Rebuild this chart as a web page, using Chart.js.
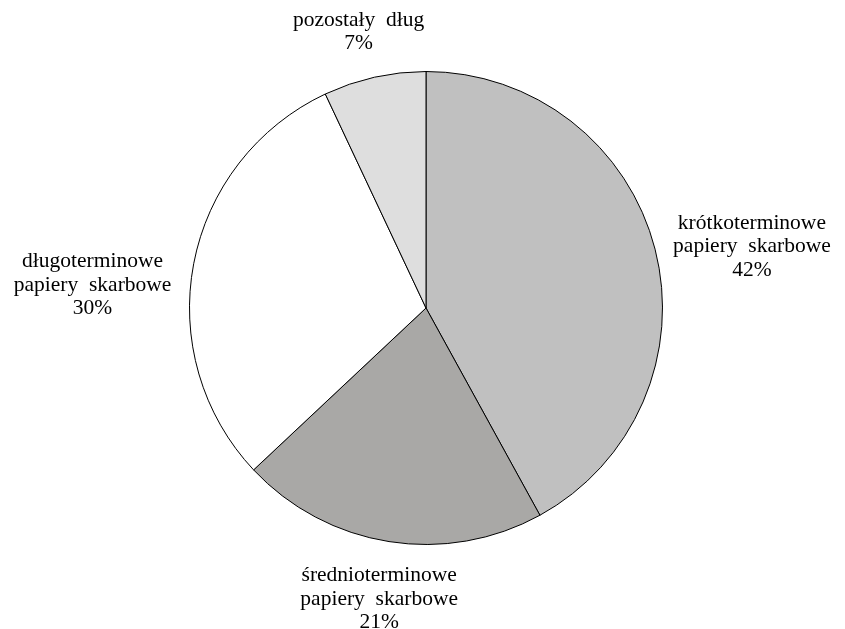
<!DOCTYPE html>
<html>
<head>
<meta charset="utf-8">
<script src="https://cdn.jsdelivr.net/npm/chart.js@4/dist/chart.umd.min.js"></script>
<style>
html,body{margin:0;padding:0;background:#fff;}
#wrap{width:845px;height:629px;}
</style>
</head>
<body>
<div id="wrap"><canvas id="pieChart"></canvas></div>
<script>
const labels = [
    ["krótkoterminowe", "papiery  skarbowe"],
    ["średnioterminowe", "papiery  skarbowe"],
    ["długoterminowe", "papiery  skarbowe"],
    ["pozostały  dług"]
];
const values = [42, 21, 30, 7];
const colors = ["#c0c0c0", "#a9a8a6", "#ffffff", "#dedede"];

// draws each label outside its slice, pushed out along the slice's middle angle
const outsideLabels = {
    id: "outsideLabels",
    afterDatasetsDraw(chart, args, opts){
        const ctx = chart.ctx;
        const meta = chart.getDatasetMeta(0);
        ctx.save();
        ctx.font = "21.5px 'Liberation Serif'";
        ctx.fillStyle = "#000";
        ctx.textAlign = "center";
        ctx.textBaseline = "middle";
        const lineH = 23.5;
        meta.data.forEach(function(arc, i){
            const lines = labels[i].concat([values[i] + "%"]);
            const mid = (arc.startAngle + arc.endAngle) / 2;
            const ux = Math.cos(mid), uy = Math.sin(mid);
            let w = 0;
            lines.forEach(function(l){ w = Math.max(w, ctx.measureText(l).width); });
            const h = lines.length * lineH;
            const r = arc.outerRadius + 16;
            const nudge = opts.nudge[i];
            const cx = arc.x + r * ux + ux * w / 2 + nudge[0];
            const cy = arc.y + r * uy + uy * h / 2 + nudge[1];
            lines.forEach(function(l, k){
                ctx.fillText(l, cx, cy - h / 2 + lineH / 2 + k * lineH);
            });
        });
        ctx.restore();
    }
};

new Chart(document.getElementById("pieChart"), {
    type: "pie",
    data: {
        labels: labels,
        datasets: [{
            data: values,
            backgroundColor: colors,
            borderColor: "#000",
            borderWidth: 1
        }]
    },
    options: {
        responsive: true,
        maintainAspectRatio: false,
        animation: false,
        layout: { padding: { top: 71, bottom: 84, left: 100, right: 93 } },
        plugins: {
            legend: { display: false },
            tooltip: { enabled: false },
            outsideLabels: { nudge: [[5, 10], [5, 7], [-8, 31], [2, -7]] }
        }
    },
    plugins: [outsideLabels]
});
</script>
</body>
</html>
